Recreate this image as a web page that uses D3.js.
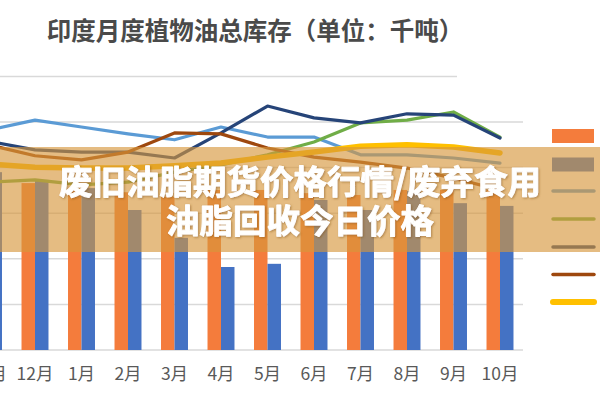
<!DOCTYPE html>
<html><head><meta charset="utf-8">
<script src="https://cdn.jsdelivr.net/npm/d3@7"></script>
<style>html,body{margin:0;padding:0;background:#fff;overflow:hidden}svg{display:block}</style>
</head><body>
<svg id="c" width="600" height="400"></svg>
<script>
const months = ["11月","12月","1月","2月","3月","4月","5月","6月","7月","8月","9月","10月"];
const barOrange = [1800,1830,1755,1730,1680,1755,1755,1720,1700,1755,1755,1755];
const barBlue   = [1950,1865,1775,1535,1230,910,945,1645,1535,1745,1610,1580];
const lineLightBlue = [2410,2520,2445,2370,2305,2445,2335,2335,2140,2140,2105,2050];
const lineGreen     = [1840,1865,1810,1840,1950,2030,2140,2280,2490,2520,2610,2335];
const lineNavy      = [2290,2195,2170,2170,2105,2380,2675,2545,2490,2590,2575,2325];
const lineBrown     = [2250,2130,2085,2170,2380,2370,2215,2115,2060,1995,1885,1755];
const lineGold      = [2040,2005,1995,1995,2020,2050,2115,2170,2235,2250,2225,2160];
const yTicks = [0,500,1000,1500,2000,2500];
const title = "印度月度植物油总库存（单位：千吨）";
const bannerLines = ["废旧油脂期货价格行情/废弃食用","油脂回收今日价格"];

const svg = d3.select("#c");
const font = "'Noto Sans CJK SC','Noto Sans',sans-serif";

const x0 = d3.scaleBand().domain(months).range([-34.75, 523.25]).paddingInner(0.42).paddingOuter(0.21);
const x1 = d3.scaleBand().domain(["o","b"]).range([0, x0.bandwidth()]);
const y = d3.scaleLinear().domain([0,3000]).range([350, 76.4]);

// title
svg.append("text").attr("x",255).attr("y",40).attr("text-anchor","middle")
  .attr("font-family",font).attr("font-size",24.5).attr("font-weight","bold")
  .attr("fill","#4a4a4a").text(title);

// top separator / gridline
svg.append("line").attr("x1",0).attr("x2",457).attr("y1",y(3000)).attr("y2",y(3000))
  .attr("stroke","#d9d9d9").attr("stroke-width",1.5);

// gridlines
svg.append("g").selectAll("line").data(yTicks).join("line")
  .attr("x1",0).attr("x2",523).attr("y1",d=>y(d)).attr("y2",d=>y(d))
  .attr("stroke","#d9d9d9").attr("stroke-width",1.5);

// bars
const g = svg.append("g");
months.forEach((m,i)=>{
  [["o",barOrange[i],"#F47C3C"],["b",barBlue[i],"#4472C4"]].forEach(([k,v,c])=>{
    g.append("rect").attr("x",x0(m)+x1(k)).attr("width",x1.bandwidth())
     .attr("y",y(v)).attr("height",y(0)-y(v)).attr("fill",c);
  });
});

// lines
const cx = m => x0(m)+x0.bandwidth()/2;
const series = [
  [lineLightBlue,"#5B9BD5",3.2],
  [lineGreen,"#70AD47",3.2],
  [lineNavy,"#264478",3.2],
  [lineBrown,"#9E480E",3.2],
  [lineGold,"#FFC000",5.5]
];
const lineGen = d3.line().x((d,i)=>cx(months[i])).y(d=>y(d));
series.forEach(([data,col,w])=>{
  svg.append("path").datum(data).attr("d",lineGen).attr("fill","none")
    .attr("stroke",col).attr("stroke-width",w).attr("stroke-linejoin","round").attr("stroke-linecap","round");
});

// x axis labels
const ax = svg.append("g").attr("transform","translate(0,350)")
  .call(d3.axisBottom(x0).tickSize(0).tickPadding(0));
ax.select(".domain").remove();
ax.selectAll("text").attr("y",30).attr("dy","0").attr("font-size",17.5)
  .attr("font-family",font).attr("fill","#595959");

// legend
const legend = svg.append("g");
const legY = [136,164.5,191,219,247,274.5,302];
legend.append("rect").attr("x",552).attr("y",legY[0]-7).attr("width",42).attr("height",14).attr("fill","#F47C3C");
legend.append("rect").attr("x",552).attr("y",legY[1]-7).attr("width",42).attr("height",14).attr("fill","#4472C4");
series.forEach(([d,col,w],i)=>{
  legend.append("line").attr("x1",553).attr("x2",594).attr("y1",legY[i+2]).attr("y2",legY[i+2])
    .attr("stroke",col).attr("stroke-width",w===3.2?3.5:6).attr("stroke-linecap","round");
});

// banner overlay
svg.append("rect").attr("x",0).attr("y",147).attr("width",600).attr("height",105)
  .attr("fill","rgb(215,150,60)").attr("fill-opacity",0.64);
const defs = svg.append("defs");
const f = defs.append("filter").attr("id","sh").attr("x","-10%").attr("y","-10%").attr("width","120%").attr("height","130%");
f.append("feDropShadow").attr("dx",1).attr("dy",1).attr("stdDeviation",1).attr("flood-color","#7a4a10").attr("flood-opacity",0.5);
svg.append("g").selectAll("text").data(bannerLines).join("text")
  .attr("x",300).attr("y",(d,i)=>194+i*39).attr("text-anchor","middle")
  .attr("font-family",font).attr("font-size",33.5).attr("font-weight","bold")
  .attr("fill","#fff").attr("stroke","#fff").attr("stroke-width",0.9).attr("stroke-linejoin","round")
  .attr("filter","url(#sh)").text(d=>d);
</script>
</body></html>
